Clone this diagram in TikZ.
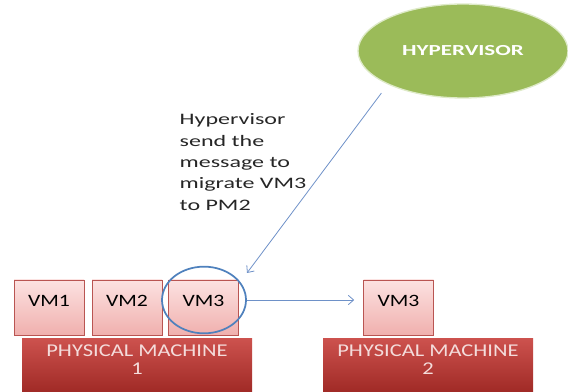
\documentclass[tikz,border=0pt]{standalone}
\usepackage{fontspec}
\setmainfont{Carlito}[FakeStretch=1.25]
\usetikzlibrary{arrows.meta,positioning,shapes,calc}
\definecolor{vmtop}{RGB}{252,226,225}
\definecolor{vmbot}{RGB}{240,176,174}
\definecolor{vmedge}{RGB}{185,85,82}
\definecolor{pmtop}{RGB}{205,82,78}
\definecolor{pmbot}{RGB}{160,42,38}
\definecolor{pmtext}{RGB}{244,220,219}
\definecolor{hypgreen}{RGB}{155,187,89}
\definecolor{hyprim}{RGB}{222,234,200}
\definecolor{msgblue}{RGB}{79,129,189}
\definecolor{linkblue}{RGB}{110,145,200}

\begin{document}
\begin{tikzpicture}[x=0.75pt, y=-0.75pt,
  vmbox/.style={rectangle, draw=vmedge, top color=vmtop, bottom color=vmbot, minimum width=52.5pt, minimum height=41.25pt, inner sep=0pt, text height=7pt, text depth=9pt, font=\fontsize{13}{15}\selectfont},
  pmbox/.style={rectangle, top color=pmtop, bottom color=pmbot, minimum height=40.5pt, inner sep=0pt},
  pmlabel/.style={align=center, text=pmtext, font=\fontsize{13.5}{13.5}\selectfont},
  hypnode/.style={ellipse, fill=hypgreen, draw=hyprim, line width=1pt, minimum width=157.5pt, minimum height=70.5pt, text=white, font=\fontsize{11.5}{14}\selectfont\bfseries\addfontfeature{FakeStretch=1.5}},
  note/.style={align=left, font=\fontsize{12}{16}\selectfont\addfontfeature{FakeStretch=1.5}, text=black!85},
  arrow/.style={-{Straight Barb[length=4pt,width=7pt]}, draw=linkblue, line width=0.6pt}
]
  \useasboundingbox (0,0) rectangle (568,392);

  \node[hypnode] (hyp) at (463,51) {HYPERVISOR};
  \node[note, anchor=north west] (msg) at (175,109) {Hypervisor\\send the\\message to\\migrate VM3\\to PM2};

  \node[vmbox] (vm1) at (49,307.5) {VM1};
  \node[vmbox] (vm2) at (127,307.5) {VM2};
  \node[vmbox] (vm3) at (203.5,307.5) {VM3};
  \node[vmbox] (vm3b) at (398.5,307.5) {VM3};

  \node[pmbox, minimum width=172.5pt, label={[pmlabel, yshift=4pt]center:{PHYSICAL MACHINE\\1}}] (pm1) at (137,365) {};
  \node[pmbox, minimum width=157.5pt, label={[pmlabel, yshift=4pt]center:{PHYSICAL MACHINE\\2}}] (pm2) at (428,365) {};

  \node[ellipse, draw=msgblue, line width=1.3pt, minimum width=63pt, minimum height=50pt] (ring) at (204,300) {};

  \coordinate (tgt) at (247,273);
  \draw[arrow, shorten <=8pt] (hyp.204) -- (tgt);
  \draw[arrow, shorten >=6.75pt] (ring.east) -- (ring.east -| vm3b.west);
\end{tikzpicture}
\end{document}
